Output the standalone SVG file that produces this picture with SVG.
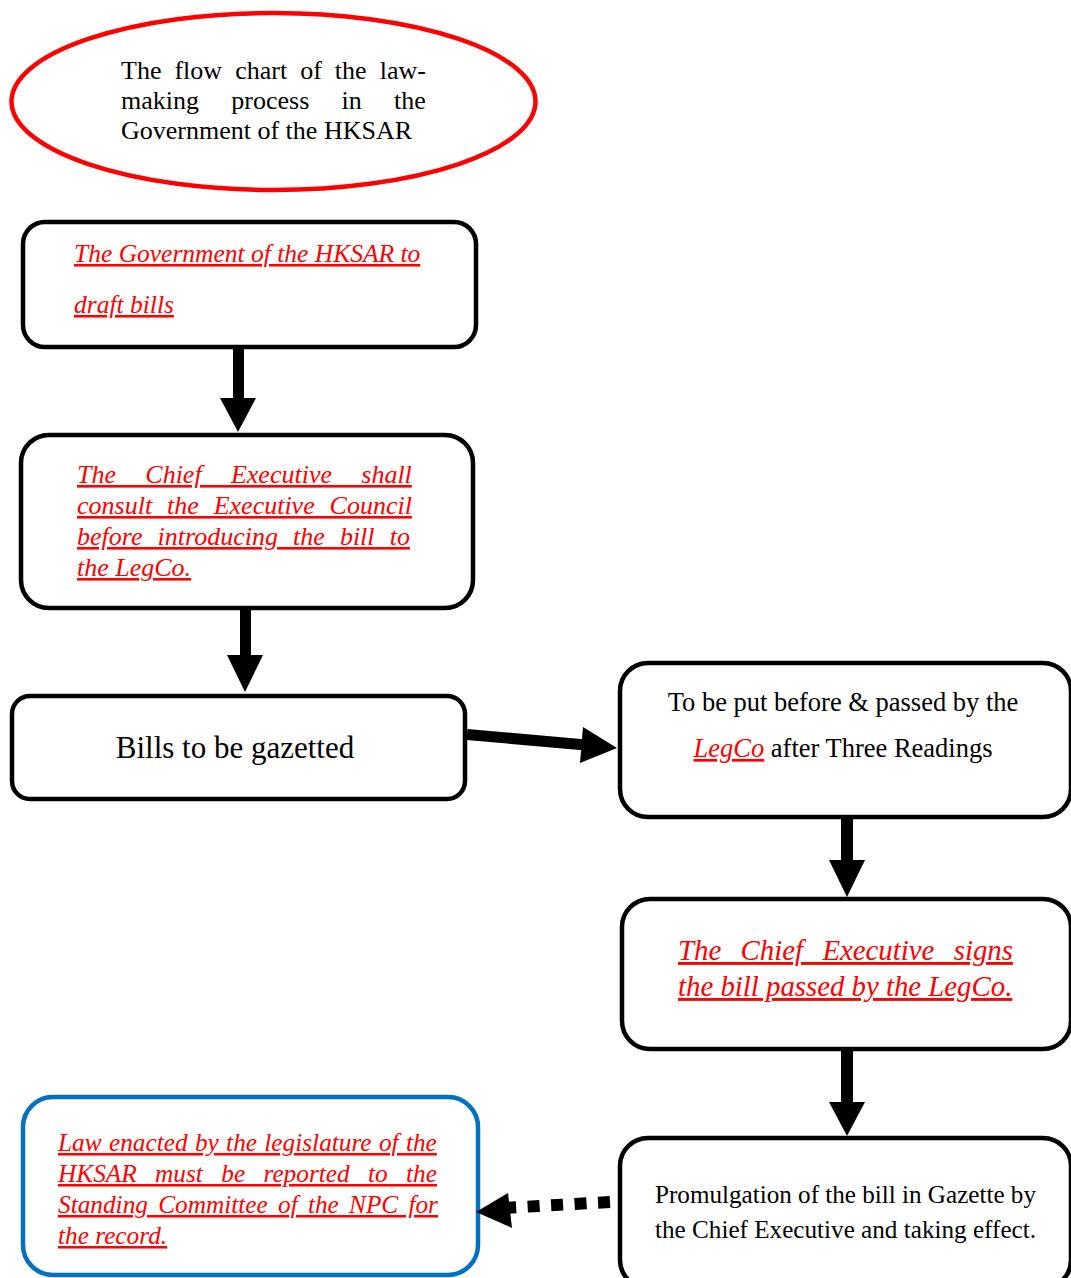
<svg xmlns="http://www.w3.org/2000/svg" width="1071" height="1278" viewBox="0 0 1071 1278">
<style>
  .box { fill: #ffffff; stroke: #000000; stroke-width: 4.5; }
  .bluebox { fill: #ffffff; stroke: #0070C0; stroke-width: 4.5; }
  .t { font-family: "Liberation Serif", "Times New Roman", serif; fill: #000000; }
  .ri { font-family: "Liberation Serif", "Times New Roman", serif; fill: #FF0000; font-style: italic; text-decoration: underline; }
  .arrow { fill: #000000; }
</style>
<rect width="1071" height="1278" fill="#ffffff"/>

<g id="title">
  <ellipse cx="273.5" cy="101.5" rx="262" ry="88.5" fill="#ffffff" stroke="#FF0000" stroke-width="4.5"/>
  <text class="t" font-size="26" x="121" y="79" word-spacing="6.54">The flow chart of the law-</text>
  <text class="t" font-size="26" x="121" y="109" word-spacing="25.8">making process in the</text>
  <text class="t" font-size="26" x="121" y="139">Government of the HKSAR</text>
</g>

<g id="node-draft">
  <rect class="box" x="23" y="222" width="453" height="125" rx="22"/>
  <text class="ri" font-size="25.5" x="74" y="262">The Government of the HKSAR to</text>
  <text class="ri" font-size="25.5" x="74" y="313">draft bills</text>
</g>

<g id="node-consult">
  <rect class="box" x="21" y="435" width="452" height="173" rx="28"/>
  <text class="ri" font-size="26" x="77" y="483" word-spacing="22.8">The Chief Executive shall</text>
  <text class="ri" font-size="26" x="77" y="514" word-spacing="8.4">consult the Executive Council</text>
  <text class="ri" font-size="26" x="77" y="545" word-spacing="8.6">before introducing the bill to</text>
  <text class="ri" font-size="26" x="77" y="576">the LegCo.</text>
</g>

<g id="node-gazetted">
  <rect class="box" x="12" y="696" width="453" height="103" rx="18"/>
  <text class="t" font-size="31" x="235" y="758" text-anchor="middle">Bills to be gazetted</text>
</g>

<g id="node-legco">
  <rect class="box" x="620" y="663" width="451" height="154" rx="28"/>
  <text class="t" font-size="26.5" x="843" y="711" text-anchor="middle">To be put before &amp; passed by the</text>
  <text class="t" font-size="26.5" x="843" y="757" text-anchor="middle"><tspan class="ri">LegCo</tspan> after Three Readings</text>
</g>

<g id="node-signs">
  <rect class="box" x="622" y="899" width="449" height="150" rx="28"/>
  <text class="ri" font-size="28.8" x="678" y="960" word-spacing="12.2">The Chief Executive signs</text>
  <text class="ri" font-size="28.8" x="678" y="996">the bill passed by the LegCo.</text>
</g>

<g id="node-promulgation">
  <rect class="box" x="620" y="1138" width="451" height="150" rx="28"/>
  <text class="t" font-size="26" x="655" y="1203" textLength="381" lengthAdjust="spacingAndGlyphs">Promulgation of the bill in Gazette by</text>
  <text class="t" font-size="26" x="655" y="1238" textLength="381" lengthAdjust="spacingAndGlyphs">the Chief Executive and taking effect.</text>
</g>

<g id="node-record">
  <rect class="bluebox" x="23" y="1097" width="455" height="178" rx="30"/>
  <text class="ri" font-size="25.3" x="58" y="1151" word-spacing="1.0">Law enacted by the legislature of the</text>
  <text class="ri" font-size="25.3" x="58" y="1182" word-spacing="12.05">HKSAR must be reported to the</text>
  <text class="ri" font-size="25.3" x="58" y="1213" word-spacing="3.9">Standing Committee of the NPC for</text>
  <text class="ri" font-size="25.3" x="58" y="1244">the record.</text>
</g>

<g id="connectors">
  <rect class="arrow" x="233" y="349" width="11" height="51"/>
  <polygon class="arrow" points="220,398 256,398 238,432"/>

  <rect class="arrow" x="240" y="610" width="11" height="47"/>
  <polygon class="arrow" points="227,655 263,655 245,692"/>

  <line x1="467" y1="734.5" x2="586" y2="745" stroke="#000" stroke-width="11"/>
  <polygon class="arrow" points="583,727 617,748 580,763"/>

  <rect class="arrow" x="841" y="818" width="12" height="44"/>
  <polygon class="arrow" points="829,860 865,860 847,897"/>

  <rect class="arrow" x="841" y="1050" width="12" height="54"/>
  <polygon class="arrow" points="829,1102 865,1102 847,1136"/>

  <line x1="610" y1="1202" x2="503" y2="1208" stroke="#000" stroke-width="12" stroke-dasharray="12 11.5"/>
  <polygon class="arrow" points="476,1212 508,1193 512,1228"/>
</g>
</svg>
